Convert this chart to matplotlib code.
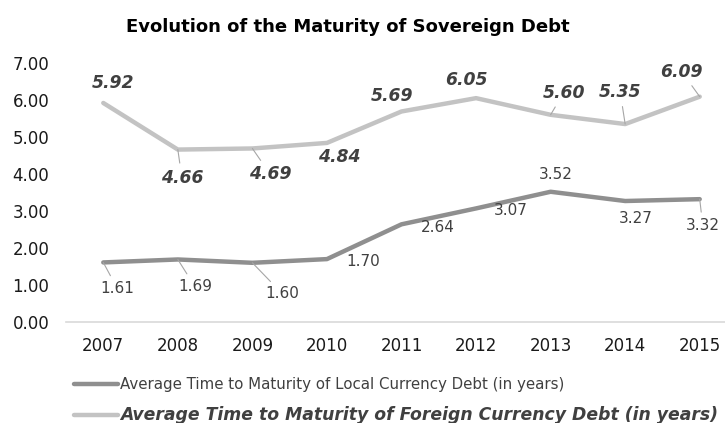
import matplotlib
matplotlib.use("Agg")
import matplotlib.pyplot as plt

years = ["2007", "2008", "2009", "2010", "2011", "2012", "2013", "2014", "2015"]
local_debt = [1.61, 1.69, 1.60, 1.70, 2.64, 3.07, 3.52, 3.27, 3.32]
foreign_debt = [5.92, 4.66, 4.69, 4.84, 5.69, 6.05, 5.60, 5.35, 6.09]

local_name = "Average Time to Maturity of Local Currency Debt (in years)"
foreign_name = "Average Time to Maturity of Foreign Currency Debt (in years)"

# label placement, in pixels from each point
local_offsets = [(14, -26), (17, -27), (30, -31), (36, -2), (36, -3),
                 (35, -2), (5, 17), (11, -17), (3, -26)]
foreign_offsets = [(10, 20), (4, -28), (18, -26), (12, -14), (-9, 15),
                   (-10, 18), (13, 22), (-5, 32), (-18, 25)]
local_leaders = {0, 1, 2, 8}
foreign_leaders = {1, 2, 6, 7, 8}

TEXT = "#404040"
plt.rcParams["font.family"] = "DejaVu Sans"

W, H = 725, 423
fig = plt.figure(figsize=(W / 100, H / 100), dpi=100)
left, right, top, bottom = 66, 737, 63, 322
ax = fig.add_axes([left / W, 1 - bottom / H, (right - left) / W, (bottom - top) / H])

x = list(range(len(years)))
ax.plot(x, local_debt, color="#8f8f8f", lw=3.2, solid_capstyle="round",
        label=local_name, zorder=3)
ax.plot(x, foreign_debt, color="#c3c3c3", lw=3.2, solid_capstyle="round",
        label=foreign_name, zorder=3)


def add_labels(values, offsets, leaders, bold):
    for i, v in enumerate(values):
        dx, dy = offsets[i]
        if bold:
            kw = dict(fontweight="bold", fontstyle="italic", fontsize=12.4)
        else:
            kw = dict(fontsize=11)
        arrow = None
        if i in leaders:
            arrow = dict(arrowstyle="-", color="#a6a6a6", lw=0.8,
                         shrinkA=2, shrinkB=0)
        ax.annotate(f"{v:.2f}", (i, v), xytext=(dx, dy),
                    textcoords="offset pixels", ha="center", va="center",
                    color=TEXT, arrowprops=arrow, zorder=4, **kw)


add_labels(local_debt, local_offsets, local_leaders, False)
add_labels(foreign_debt, foreign_offsets, foreign_leaders, True)

ax.set_xlim(-0.5, len(years) - 0.5)
ax.set_ylim(0, 7)
ax.set_xticks(x)
ax.set_xticklabels(years)
ax.set_yticks(range(8))
ax.set_yticklabels([f"{v:.2f}" for v in range(8)])
ax.tick_params(axis="both", length=0, labelsize=12, labelcolor="#1a1a1a")
ax.tick_params(axis="y", pad=12)
ax.tick_params(axis="x", pad=11)
for side in ("top", "right", "left"):
    ax.spines[side].set_visible(False)
ax.spines["bottom"].set_color("#d9d9d9")
ax.spines["bottom"].set_linewidth(1.2)

fig.text(348 / W, 1 - 27 / H, "Evolution of the Maturity of Sovereign Debt",
         ha="center", va="center", fontsize=13, fontweight="bold", color="#000000")

leg = fig.legend(loc="upper left", bbox_to_anchor=(74 / W, 1 - 377 / H),
                 frameon=False, fontsize=10.8, handlelength=2.9,
                 handletextpad=0.15, labelspacing=0.95, borderaxespad=0,
                 borderpad=0)
for t in leg.get_texts():
    t.set_color(TEXT)
leg.get_texts()[1].set_fontweight("bold")
leg.get_texts()[1].set_fontstyle("italic")
leg.get_texts()[1].set_fontsize(12.4)

fig.savefig("out.png", dpi=100)
